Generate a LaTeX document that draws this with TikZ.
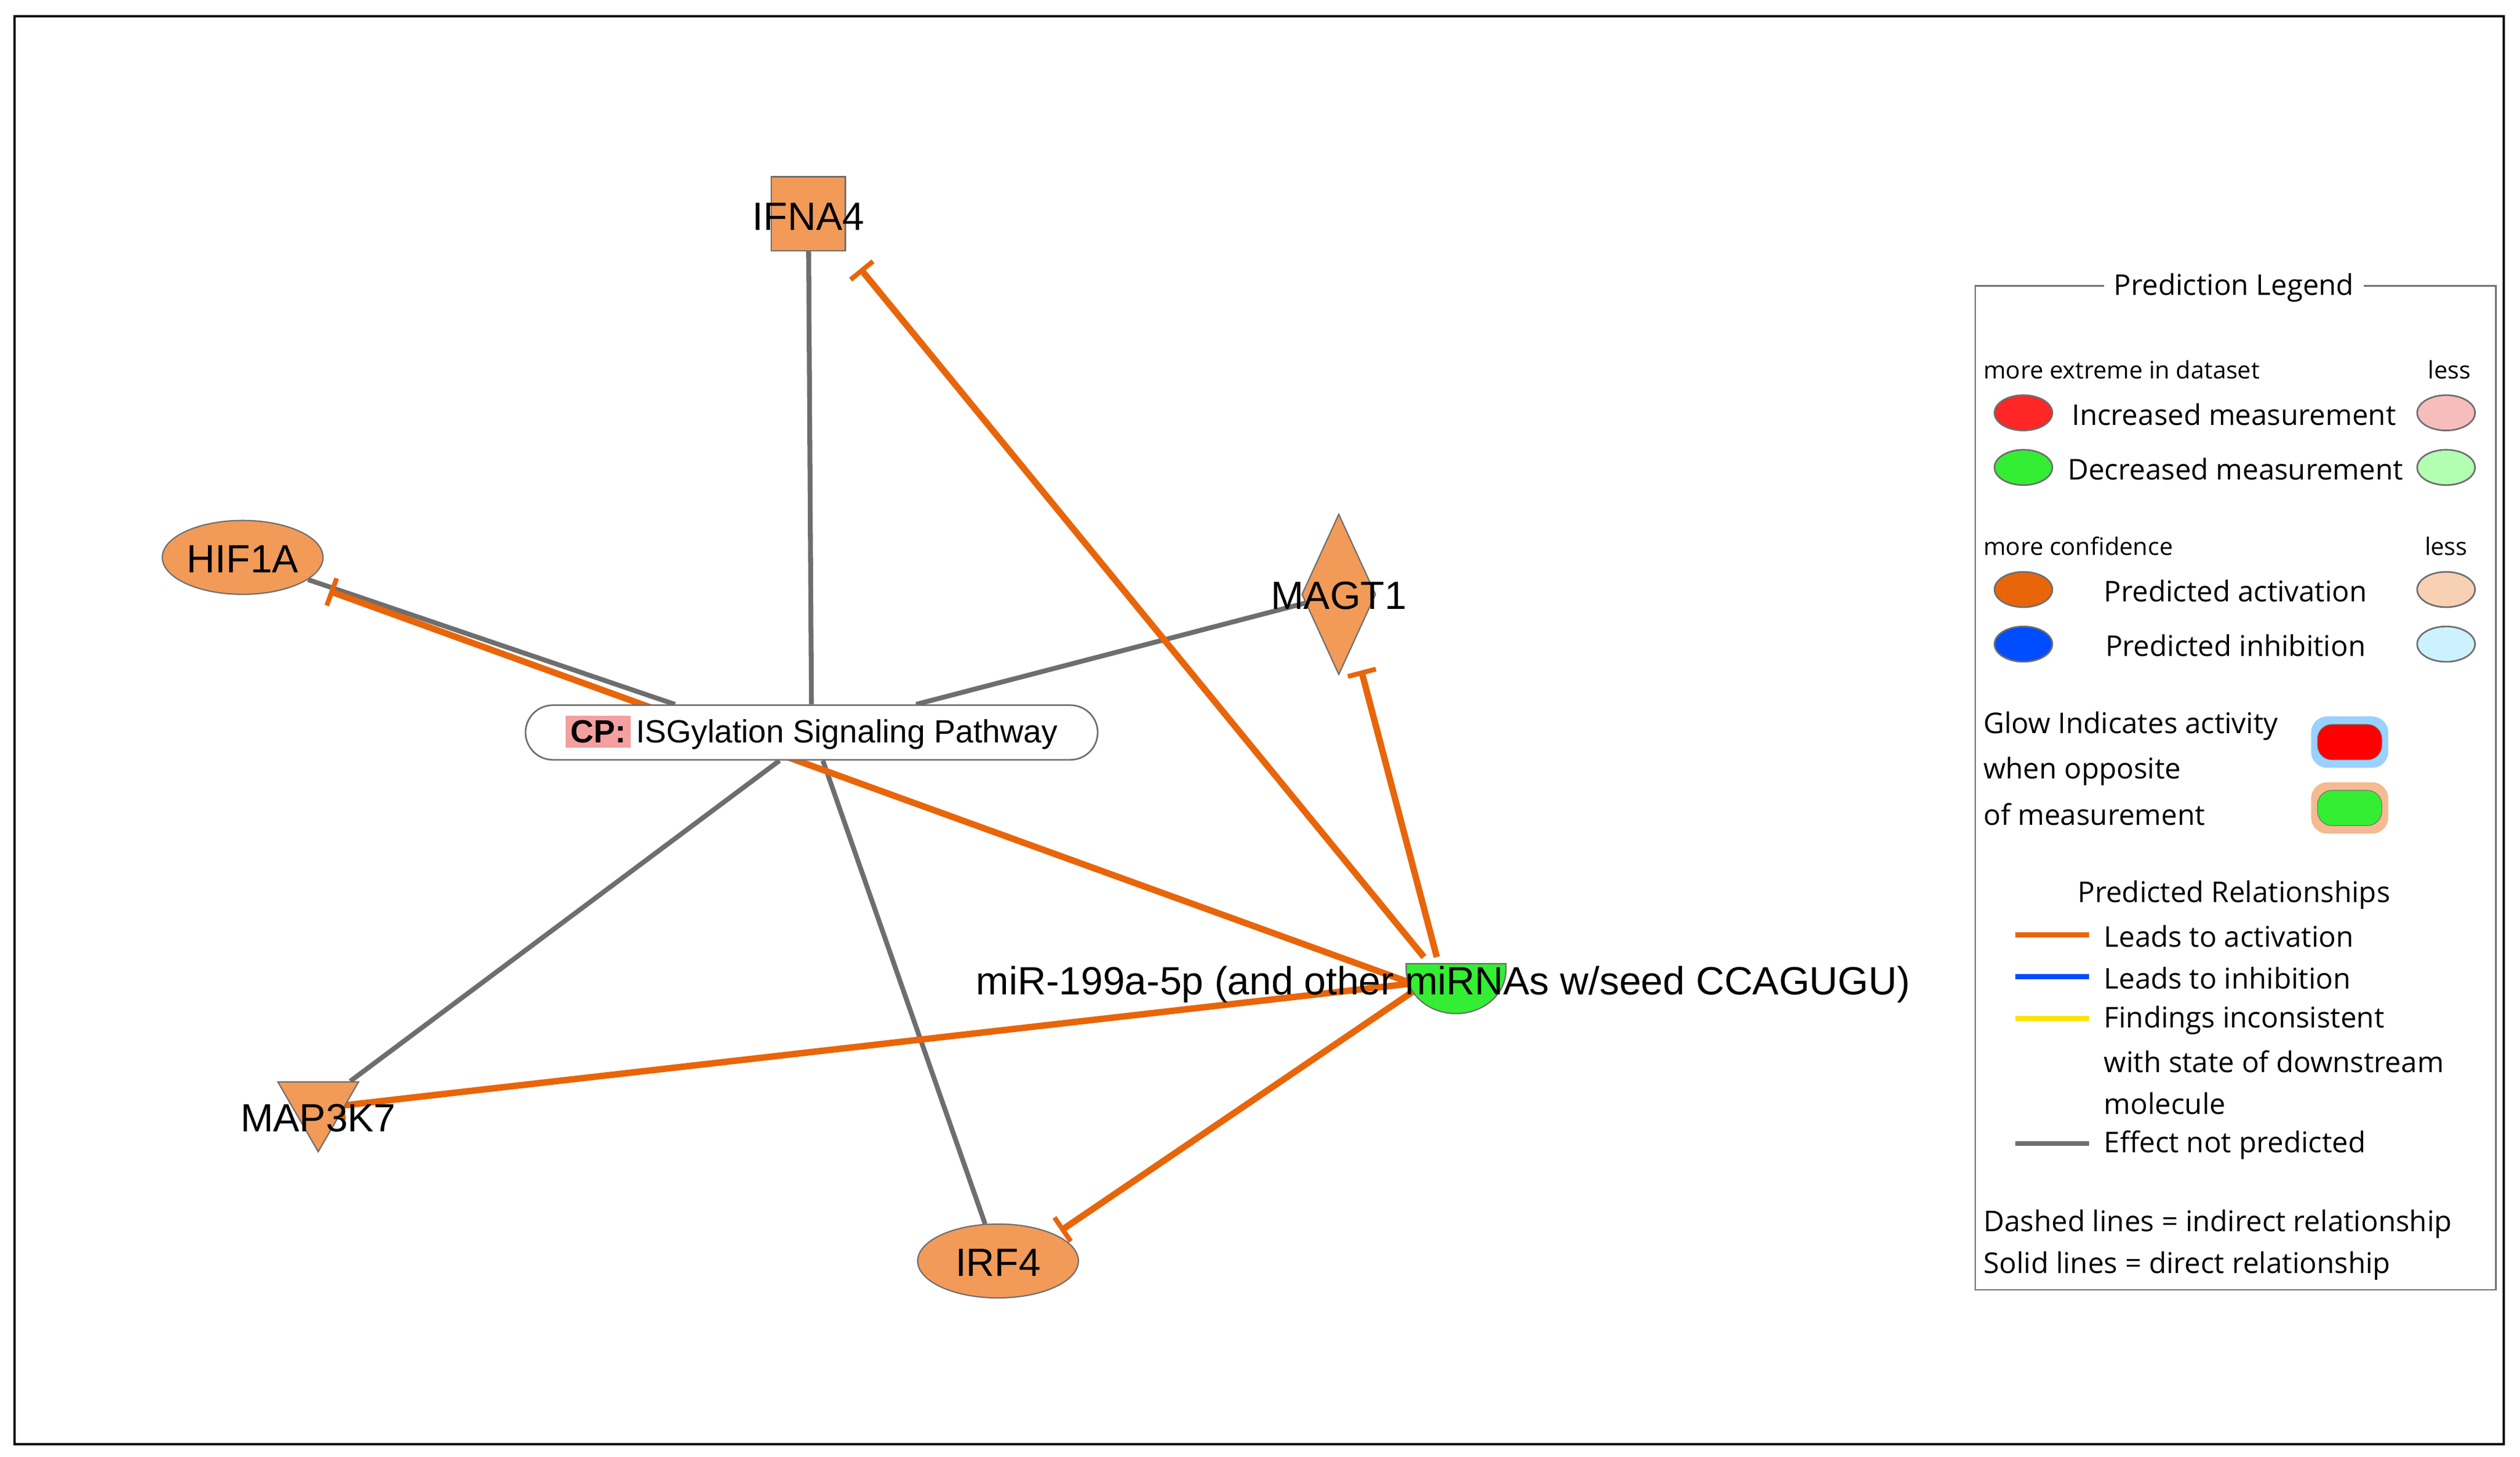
\documentclass[tikz,border=0pt]{standalone}
\usepackage{fontspec}
\setmainfont{Liberation Sans}
\newfontfamily\legfont{Open Sans}
\usetikzlibrary{shapes.geometric,arrows.meta}
\definecolor{nodeor}{HTML}{F29A58}
\definecolor{edgeor}{HTML}{E8650A}
\definecolor{edgegr}{HTML}{6E6E6E}
\definecolor{cppink}{HTML}{F4A0A0}
\definecolor{mirgreen}{HTML}{33EE33}
\pgfdeclarelayer{bg}
\pgfsetlayers{bg,main}
\begin{document}
\begin{tikzpicture}[x=1pt,y=-1pt,
  mol/.style={draw=edgegr,line width=0.8pt,fill=nodeor,inner sep=0pt},
  lab/.style={font=\fontsize{24.5}{24.5}\selectfont,inner sep=0pt},
  gr/.style={draw=edgegr,line width=3pt},
  act/.style={draw=edgeor,line width=4pt},
  tbar/.style={act,-{Bar[width=18pt,line width=3pt]}},
  leg/.style={font=\legfont\fontsize{17.8}{17.8}\selectfont,inner sep=0pt},
  legs/.style={font=\legfont\fontsize{15}{15}\selectfont,inner sep=0pt},
  lel/.style={ellipse,draw=edgegr,line width=1pt,minimum width=36pt,minimum height=22pt,inner sep=0pt}]
\useasboundingbox (0,0) rectangle (1568,907);
\draw[line width=1.5pt] (9,10) rectangle (1558,899);
% molecules
\node[mol,rectangle,minimum size=46pt] (ifna) at (503,133) {};
\node[mol,ellipse,minimum width=100pt,minimum height=46pt] (hif) at (151,347) {};
\node[mol,diamond,minimum width=46pt,minimum height=100pt] (magt) at (833,370) {};
\node[mol,ellipse,minimum width=100pt,minimum height=46pt] (irf) at (621,785) {};
\node[mol,regular polygon,regular polygon sides=3,shape border rotate=180,minimum size=58pt] (map) at (198,688) {};
\node[draw=edgegr,line width=1pt,fill=white,rounded corners=17pt,minimum width=356pt,minimum height=34pt,inner sep=0pt,font=\fontsize{20}{20}\selectfont] (cp) at (505,456) {\colorbox{cppink}{\textbf{CP:}}\,ISGylation Signaling Pathway};
\node[minimum width=62pt,minimum height=32pt,inner sep=0pt] (mir) at (906,612) {};
\draw[draw=edgegr,line width=0.8pt,fill=mirgreen] (875,600) -- (937,600) -- (937,604) arc[start angle=0,end angle=180,x radius=31,y radius=27] -- cycle;
% labels
\node[lab] (ifnal) at (503,135) {IFNA4};
\node[lab] (hifl) at (151,348) {HIF1A};
\node[lab] (magtl) at (833,371) {MAGT1};
\node[lab] (irfl) at (621,786) {IRF4};
\node[lab] (mapl) at (198,696) {MAP3K7};
\node[lab] (mirl) at (898,613) {miR-199a-5p (and other miRNAs w/seed CCAGUGU)};
% edges
\begin{pgfonlayer}{bg}
\draw[gr] (ifna) -- (cp);
\draw[gr] (hif) -- ([xshift=-85pt]cp.north);
\draw[gr] (magt) -- ([xshift=65pt]cp.north);
\draw[gr] ([xshift=-20pt]cp.south) -- (map);
\draw[gr] ([xshift=7pt]cp.south) -- (irf);
\draw[tbar,shorten >=14pt] ([xshift=-20pt]mir.north) -- (ifna.south east);
\draw[tbar] ([xshift=-12pt]mir.north) -- ([xshift=14pt,yshift=3pt]magt.south);
\draw[tbar] ([xshift=-28pt]mir.center) -- ([xshift=54pt,yshift=-21pt]hif.center);
\draw[tbar,shorten >=-4pt] ([xshift=-25pt]mir.center) -- (map.east);
\draw[tbar,shorten >=4pt] ([xshift=-22pt,yshift=-2pt]mir.center) -- (irf.north east);
\end{pgfonlayer}
% legend
\draw[edgegr,line width=1pt] (1229,178) rectangle (1553,803);
\node[leg,fill=white,inner xsep=6pt] (lt) at (1390,179) {Prediction Legend};
\node[legs,anchor=west] (l1) at (1234,230) {more extreme in dataset};
\node[legs] (l1b) at (1524,230) {less};
\node[lel,fill={red!85!white}] (e1) at (1259,257) {};
\node[leg] (t1) at (1390,258) {Increased measurement};
\node[lel,fill={cppink!70!white}] (e1b) at (1522,257) {};
\node[lel,fill=mirgreen] (e2) at (1259,291) {};
\node[leg] (t2) at (1391,292) {Decreased measurement};
\node[lel,fill={green!30!white}] (e2b) at (1522,291) {};
\node[legs,anchor=west] (l2) at (1234,340) {more confidence};
\node[legs] (l2b) at (1522,340) {less};
\node[lel,fill=edgeor] (e3) at (1259,367) {};
\node[leg] (t3) at (1391,368) {Predicted activation};
\node[lel,fill={edgeor!30!white}] (e3b) at (1522,367) {};
\node[lel,fill={blue!70!cyan}] (e4) at (1259,401) {};
\node[leg] (t4) at (1391,402) {Predicted inhibition};
\node[lel,fill={blue!25!cyan!20!white}] (e4b) at (1522,401) {};
\node[leg,anchor=west] (g1) at (1234,452) {Glow Indicates activity};
\node[leg,anchor=west] (g2) at (1234,480) {when opposite};
\node[leg,anchor=west] (g3) at (1234,507) {of measurement};
\node[rectangle,rounded corners=10pt,minimum width=48pt,minimum height=32pt,fill={blue!45!cyan!40!white}] (gw1) at (1462,462) {};
\node[rectangle,rounded corners=9pt,minimum width=40pt,minimum height=22pt,draw=edgegr,fill=red] (gr1) at (1462,462) {};
\node[rectangle,rounded corners=10pt,minimum width=48pt,minimum height=32pt,fill={edgeor!45!white}] (gw2) at (1462,503) {};
\node[rectangle,rounded corners=9pt,minimum width=40pt,minimum height=22pt,draw=edgegr,fill=mirgreen] (gr2) at (1462,503) {};
\node[leg] (pr) at (1390,557) {Predicted Relationships};
\coordinate (a1) at (1254,582); \coordinate (a2) at (1300,582);
\coordinate (b1) at (1254,608); \coordinate (b2) at (1300,608);
\coordinate (c1) at (1254,634); \coordinate (c2) at (1300,634);
\coordinate (d1) at (1254,712); \coordinate (d2) at (1300,712);
\draw[edgeor,line width=3pt] (a1) -- (a2);
\draw[{blue!70!cyan},line width=3pt] (b1) -- (b2);
\draw[{yellow!85!orange},line width=3pt] (c1) -- (c2);
\draw[edgegr,line width=3pt] (d1) -- (d2);
\node[leg,anchor=west] (r1) at (1309,583) {Leads to activation};
\node[leg,anchor=west] (r2) at (1309,609) {Leads to inhibition};
\node[leg,anchor=west] (r3) at (1309,635) {Findings inconsistent};
\node[leg,anchor=west] (r4) at (1309,661) {with state of downstream};
\node[leg,anchor=west] (r5) at (1309,687) {molecule};
\node[leg,anchor=west] (r6) at (1309,713) {Effect not predicted};
\node[leg,anchor=west] (s1) at (1234,762) {Dashed lines = indirect relationship};
\node[leg,anchor=west] (s2) at (1234,788) {Solid lines = direct relationship};
\end{tikzpicture}
\end{document}
